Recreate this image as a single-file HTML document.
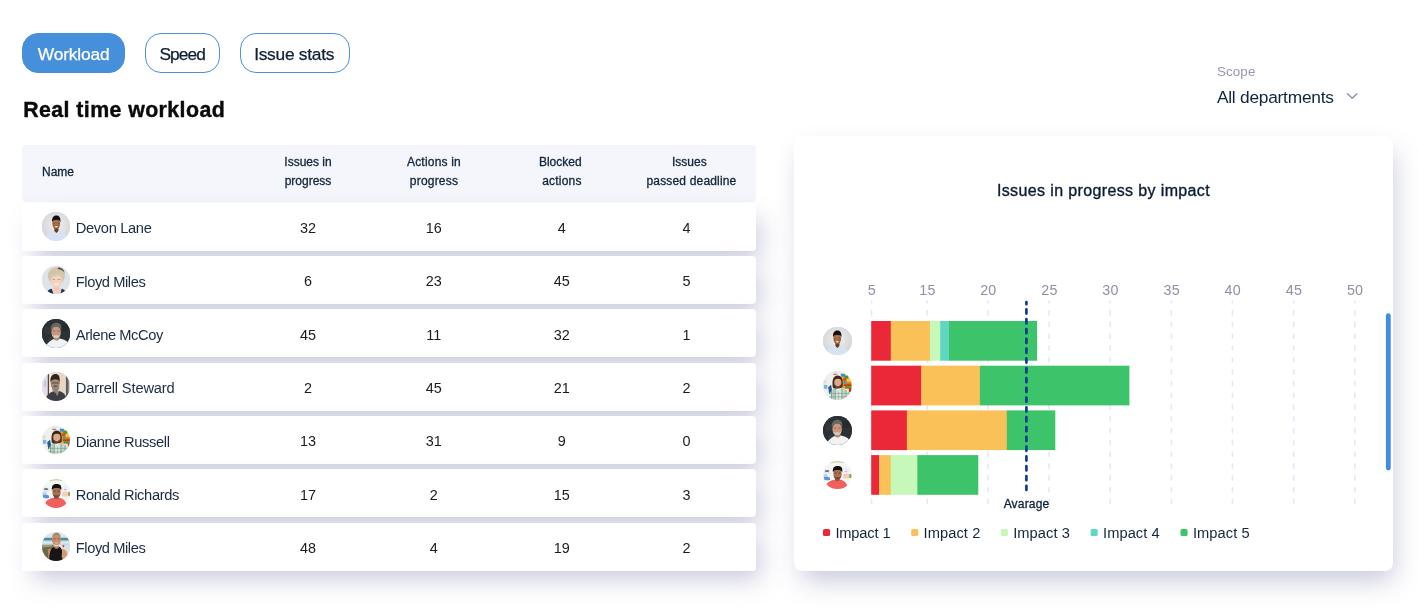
<!DOCTYPE html>
<html lang="en">
<head>
<meta charset="utf-8">
<title>Real time workload</title>
<style>
*{box-sizing:border-box;margin:0;padding:0}
html,body{width:1418px;height:611px;overflow:hidden;background:#fff}
body{font-family:"Liberation Sans",sans-serif;color:#14263d;position:relative}
.abs{position:absolute}
.tab{position:absolute;top:33px;height:39.7px;border-radius:16px;border:1.3px solid #4a90de;background:#fff;color:#0d1f36;font-size:17.33px;line-height:37.1px;padding-top:1.7px;text-align:center;white-space:nowrap;-webkit-text-stroke:.25px currentColor}
.tab.on{background:#458fdb;border-color:#458fdb;color:#fff}
h1{position:absolute;left:23.2px;top:96.9px;-webkit-text-stroke:.4px #0a0a0c;font-size:21.33px;line-height:26px;font-weight:700;color:#0a0a0c;letter-spacing:.42px;white-space:nowrap}
.thead{position:absolute;left:22.3px;top:144.5px;width:733.6px;height:57.3px;background:#f5f6fb;border-radius:4px}
.th{position:absolute;top:8.5px;width:140px;margin-left:-70px;text-align:center;font-size:12px;line-height:19.2px;color:#10243c;white-space:nowrap;-webkit-text-stroke:.3px #10243c}
.row{position:absolute;left:22.3px;width:733.6px;height:48px;background:#fff;border-radius:4px;box-shadow:8px 12px 24px -4px rgba(106,109,161,.37)}
.row .nm{position:absolute;left:53.5px;top:2.8px;line-height:47.7px;font-size:14.67px;color:#1a2b42;letter-spacing:-.34px;white-space:nowrap}
.row .v{position:absolute;top:2.3px;width:60px;margin-left:-30px;text-align:center;line-height:47.7px;font-size:14.4px;color:#1b1b1f;letter-spacing:0;white-space:nowrap}
.av{position:absolute;width:28.8px;height:28.8px;border-radius:50%;overflow:hidden;display:block}
.row .av{left:19.4px;top:9.7px}
.card{position:absolute;left:794px;top:136px;width:599px;height:434.5px;background:#fff;border-radius:8px;box-shadow:4px 13px 26px -4px rgba(98,101,156,.36)}
</style>
</head>
<body>
<svg width="0" height="0" style="position:absolute"><defs><filter id="avb" x="-10%" y="-10%" width="120%" height="120%"><feGaussianBlur stdDeviation="1.3"/></filter></defs></svg>

<div class="tab on" style="left:22px;width:103.2px;letter-spacing:-.17px">Workload</div>
<div class="tab" style="left:144.8px;width:75.6px;letter-spacing:-.9px;padding-right:.8px">Speed</div>
<div class="tab" style="left:240.2px;width:110px;letter-spacing:-.25px;padding-right:2px">Issue stats</div>

<h1>Real time workload</h1>

<div class="abs" style="left:1216.9px;top:63.5px;font-size:13.33px;line-height:16px;color:#9697ad;letter-spacing:.16px">Scope</div>
<div class="abs" style="left:1216.9px;top:86.5px;font-size:17.33px;line-height:21px;color:#10243c;letter-spacing:-.24px;white-space:nowrap">All departments</div>
<svg class="abs" style="left:1345px;top:91px" width="14" height="10" viewBox="0 0 14 10"><path d="M2.5 2.8 L7.2 7.2 L11.9 2.8" fill="none" stroke="#8889a6" stroke-width="1.25" stroke-linecap="round" stroke-linejoin="round"/></svg>

<div class="thead">
  <div class="th" style="left:36.2px;width:auto;margin-left:-16.5px;top:18px;text-align:left">Name</div>
  <div class="th" style="left:285.7px">Issues in<br>progress</div>
  <div class="th" style="left:411.7px;letter-spacing:.2px">Actions in<br>progress</div>
  <div class="th" style="left:538px">Blocked<br><span style="position:relative;left:1.6px;letter-spacing:.2px">actions</span></div>
  <div class="th" style="left:667px">Issues<br><span style="position:relative;left:2.2px;letter-spacing:.17px">passed deadline</span></div>
</div>

<div class="row" style="top:202.7px"><svg class="av" style="background:#dcdde0;" viewBox="0 0 100 100"><g filter="url(#avb)"><defs><radialGradient id="gDr0" cx=".5" cy=".45" r=".6"><stop offset="0" stop-color="#f1f1f2"/><stop offset="1" stop-color="#cbccd0"/></radialGradient></defs>
<rect x="-10" y="-10" width="120" height="120" fill="url(#gDr0)"/>
<path d="M5 104C8 82 22 74 38 66L50 73L62 66C78 74 92 82 95 104Z" fill="#d5e3f4"/>
<path d="M43 54h14v12l-7 7l-7-7z" fill="#6b3a20"/>
<ellipse cx="49.500" cy="41" rx="13.500" ry="18" fill="#a2663f"/>
<ellipse cx="49.500" cy="37" rx="8" ry="7" fill="#bd8158" opacity=".7"/>
<path d="M35 36C33 17 42 12 50 12C58 12 66 17 64 36C62 29 58 26.500 50 26.500C42 26.500 37 29 35 36Z" fill="#17110f"/>
<path d="M37 38.500h25" stroke="#34304a" stroke-width="1.600" opacity=".75"/>
<path d="M38.500 48c3 11 19 11 22 0c-2 5-5 6.500-11 6.500s-9-1.500-11-6.500z" fill="#5a321c" opacity=".6"/>
<ellipse cx="49.500" cy="51" rx="5.200" ry="2.500" fill="#f6efea"/></g></svg><span class="nm">Devon Lane</span><span class="v" style="left:285.7px">32</span><span class="v" style="left:411.5px">16</span><span class="v" style="left:539.5px">4</span><span class="v" style="left:664.2px">4</span></div>
<div class="row" style="top:256.0px"><svg class="av" style="background:#dce4e9;" viewBox="0 0 100 100"><g filter="url(#avb)"><rect width="100" height="100" fill="#dce4e9"/>
<path d="M18 112C20 84 30 80 42 78L58 78C70 80 80 84 84 112Z" fill="#f1d2bf"/>
<path d="M15 112C16 86 24 80 34 79C36 88 40 95 44 112Z" fill="#1d3263"/>
<path d="M86 112C84 88 80 81 68 79C67 88 64 95 60 112Z" fill="#1d3263"/>
<rect x="41" y="66" width="19" height="16" fill="#ecc5b0"/>
<ellipse cx="50" cy="34" rx="29.500" ry="30" fill="#d2c4ab"/>
<path d="M55 5C66 4 76 10 79 24C74 16 66 11 55 10Z" fill="#5b4a3c"/>
<ellipse cx="50" cy="52" rx="20" ry="24" fill="#f3d3c0"/>
<path d="M28 46C30 26 48 20 66 24C74 28 76 40 73 50C70 38 62 32 52 33C42 34 34 38 28 46Z" fill="#d6c8af"/>
<path d="M40 60c5 8 15 8 20 0c-4 3-16 3-20 0z" fill="#fff"/>
<path d="M37 47h8M55 47h8" stroke="#6a5448" stroke-width="1.600"/></g></svg><span class="nm" style="letter-spacing:-0.42px">Floyd Miles</span><span class="v" style="left:285.7px">6</span><span class="v" style="left:411.5px">23</span><span class="v" style="left:539.5px">45</span><span class="v" style="left:664.2px">5</span></div>
<div class="row" style="top:309.4px"><svg class="av" style="background:#2c3034;" viewBox="0 0 100 100"><g filter="url(#avb)"><rect width="100" height="100" fill="#2c3034"/>
<circle cx="22" cy="40" r="14" fill="#383d42" opacity=".6"/><circle cx="80" cy="30" r="12" fill="#23272a" opacity=".7"/><circle cx="30" cy="72" r="10" fill="#3a3f44" opacity=".5"/>
<path d="M6 112C14 84 30 74 44 68L62 68C80 72 97 77 106 112Z" fill="#f1f2f3"/>
<path d="M41 58h19v12c-4 6-14 6-19 0z" fill="#b98868"/>
<ellipse cx="49" cy="45" rx="16.500" ry="21" fill="#c8997c"/>
<path d="M31 40C28 22 38 13 50 13C62 13 70 22 66.500 40C64 30 60 27 50 27C40 27 34 30 31 40Z" fill="#6b6764"/>
<path d="M33.500 50C35 62 41 67 49 67C57 67 63 62 65 50C62 56 58 58 49 58C40 58 36 56 33.500 50Z" fill="#cbc7c3"/>
<path d="M43 58c3 3 9 3 12 0z" fill="#fff"/>
<path d="M38 42h8M53 42h8" stroke="#4a3a30" stroke-width="1.600"/></g></svg><span class="nm" style="letter-spacing:-0.42px">Arlene McCoy</span><span class="v" style="left:285.7px">45</span><span class="v" style="left:411.5px">11</span><span class="v" style="left:539.5px">32</span><span class="v" style="left:664.2px">1</span></div>
<div class="row" style="top:362.7px"><svg class="av" style="background:#e4dad2;" viewBox="0 0 100 100"><g filter="url(#avb)"><rect width="100" height="100" fill="#e9dcd0"/>
<rect width="21" height="100" fill="#e6dde8"/><rect x="8" y="30" width="6" height="22" fill="#b9c6e8"/>
<rect x="20" width="5.500" height="100" fill="#5d4436"/>
<rect x="25" width="8" height="100" fill="#f1ece8"/>
<rect x="58" width="24" height="100" fill="#e7d6c4"/>
<rect x="83" width="10" height="100" fill="#5e5e63"/>
<rect x="93" width="7" height="100" fill="#cfd2d8"/>
<path d="M9 112C11 80 26 72 40 67L62 67C76 71 86 80 88 112Z" fill="#3c3e45"/>
<path d="M44 66L60 66L53 84Z" fill="#a88068"/>
<ellipse cx="45.500" cy="40" rx="15.500" ry="21" fill="#ad8770"/>
<path d="M29.500 36C27 14 38 7 47 7C57 7 64 15 61 36C58 27 54 25 46 25C38 25 32 28 29.500 36Z" fill="#292524"/>
<path d="M33 38h28" stroke="#2b2628" stroke-width="2.200"/>
<path d="M34 47C35 60 38 72 47 72C57 72 59 60 60.500 47C57 52 53 53 47 53C41 53 37 52 34 47Z" fill="#8b8783"/>
<path d="M38 49c4-3 14-3 18 0c-4 3-14 3-18 0z" fill="#4a4440"/></g></svg><span class="nm" style="letter-spacing:-0.15px">Darrell Steward</span><span class="v" style="left:285.7px">2</span><span class="v" style="left:411.5px">45</span><span class="v" style="left:539.5px">21</span><span class="v" style="left:664.2px">2</span></div>
<div class="row" style="top:416.0px"><svg class="av" style="background:#edf0ee;" viewBox="0 0 100 100"><g filter="url(#avb)"><rect width="100" height="100" fill="#edf0ee"/>
<rect x="36" y="2" width="14" height="12" fill="#d8e6ec"/><rect x="36" y="10" width="12" height="4" fill="#e05a50"/>
<rect x="2" y="34" width="10" height="8" fill="#cfe0c8"/><rect x="3" y="48" width="12" height="14" fill="#7fb4d8"/>
<path d="M18 56l10-8l4 20l-10 14z" fill="#285a8c"/>
<path d="M62 8C78 10 94 24 99 44L100 66L66 60Z" fill="#e9a128"/>
<rect x="62" y="10" width="14" height="9" fill="#2f8fe0"/><rect x="74" y="16" width="14" height="10" fill="#3c9a42"/>
<rect x="70" y="26" width="12" height="8" fill="#d8401f"/><rect x="82" y="28" width="14" height="9" fill="#f1d42a"/>
<rect x="72" y="36" width="10" height="8" fill="#2f8fe0"/><rect x="84" y="39" width="14" height="8" fill="#e07a1e"/>
<rect x="72" y="46" width="26" height="6" fill="#c9361c"/><rect x="76" y="53" width="22" height="7" fill="#3c9a42"/>
<rect x="90" y="60" width="9" height="14" fill="#c8301e"/>
<path d="M19 112C20 76 30 64 44 58L64 58C80 62 94 74 97 112Z" fill="#d6e6dd"/>
<path d="M30 66v46M42 60v52M66 60v52M80 66v46" stroke="#5b9a82" stroke-width="4" opacity=".8"/>
<path d="M36 62v50M54 70v42M73 62v50M88 72v40" stroke="#d47868" stroke-width="2" opacity=".8"/>
<path d="M22 78h74M20 90h78" stroke="#5b9a82" stroke-width="3" opacity=".6"/>
<path d="M48 58l6 12l6-12z" fill="#f3f3f0"/>
<path d="M34 57C30 30 37 16 51 16C65 16 71 30 68 55C65 59 60 61 51 61C42 61 37 60 34 57Z" fill="#432a1a"/>
<ellipse cx="51.500" cy="40" rx="12.500" ry="17" fill="#dcaa88"/>
<path d="M40 44C41 56 45 60 51.500 60C58 60 62 56 63.500 44C61 49 57 50 51.500 50C46 50 42 49 40 44Z" fill="#6a4028" opacity=".85"/>
<path d="M46 50c3 3 8 3 11 0z" fill="#fff"/>
<path d="M40 30C42 22 48 19 52 19C58 19 62 23 63.500 31C58 26 46 26 40 30Z" fill="#3b2517"/></g></svg><span class="nm">Dianne Russell</span><span class="v" style="left:285.7px">13</span><span class="v" style="left:411.5px">31</span><span class="v" style="left:539.5px">9</span><span class="v" style="left:664.2px">0</span></div>
<div class="row" style="top:469.4px"><svg class="av" style="background:#f4f5f5;" viewBox="0 0 100 100"><g filter="url(#avb)"><rect width="100" height="100" fill="#f4f5f5"/>
<path d="M26 5C38 0 60 0 72 4L69 7C58 3 40 3 29 8Z" fill="#aac472" opacity=".8"/>
<rect x="4" y="30" width="22" height="14" fill="#dfe6ea"/><rect x="8" y="32" width="12" height="6" fill="#5a6a78"/>
<path d="M3 55C8 53 18 54 24 58L25 65C18 68 8 67 4 64Z" fill="#5f8fde"/><rect x="2" y="46" width="14" height="7" fill="#b9d0ee"/>
<rect x="70" y="44" width="20" height="17" fill="#f4cdb2"/><rect x="72" y="24" width="18" height="14" fill="#eceef6"/><rect x="76" y="34" width="8" height="5" fill="#c9b6ea"/>
<path d="M91 46c5-2 8 2 8 6l-2 8l-6-2z" fill="#7aa544"/>
<path d="M10 88C12 74 26 68 40 65L60 65C72 68 82 74 84 88C76 100 62 108 48 108C32 108 16 100 10 88Z" fill="#f0615b"/>
<path d="M42 58h16v9c-4 5-12 5-16 0z" fill="#935c3c"/>
<ellipse cx="50.500" cy="45" rx="14.500" ry="19" fill="#a87150"/>
<path d="M34.500 40C32 22 40 17 51 17C62 17 70 22 66.500 40C64 33 60 31 51 31C42 31 37 33 34.500 40Z" fill="#15110f"/>
<path d="M36.500 50C38 60 43 64.500 50.500 64.500C58 64.500 63 60 64.500 50C62 55 57 56 50.500 56C44 56 39 55 36.500 50Z" fill="#4a2c1c" opacity=".55"/>
<path d="M40 42h7M54 42h7" stroke="#1d1410" stroke-width="1.800"/></g></svg><span class="nm">Ronald Richards</span><span class="v" style="left:285.7px">17</span><span class="v" style="left:411.5px">2</span><span class="v" style="left:539.5px">15</span><span class="v" style="left:664.2px">3</span></div>
<div class="row" style="top:522.7px"><svg class="av" style="background:#d4e2e6;" viewBox="0 0 100 100"><g filter="url(#avb)"><rect width="100" height="100" fill="#dbe7ea"/>
<rect y="20" width="100" height="10" fill="#4f8d9c"/>
<rect y="30" width="100" height="16" fill="#c3dbe6"/><rect y="36" width="100" height="3" fill="#eef4f6"/>
<rect x="50" y="46" width="50" height="54" fill="#d4e2e6"/>
<path d="M0 46L40 44L46 112L0 112Z" fill="#6b6a48"/>
<path d="M0 44L36 44L36 50L0 54Z" fill="#a09a78"/>
<path d="M70 47l8-2l-3 10z" fill="#de2222"/>
<path d="M64 60C78 56 90 66 88 84L82 94L64 96Z" fill="#d49a72"/>
<path d="M20 60L30 56L30 96L22 94Z" fill="#c58a62"/>
<path d="M25 112C24 72 30 56 42 52L62 52C72 58 70 74 68 84C70 92 74 97 78 112Z" fill="#141414"/>
<path d="M42 46h17v8c-4 6-13 6-17 0z" fill="#c08058"/>
<ellipse cx="50" cy="27" rx="15.500" ry="22" fill="#ca8d6a"/>
<path d="M35 20C36 8 44 3 51 3C58 3 64 8 65.500 20C62 12 58 9 51 9C44 9 38 12 35 20Z" fill="#8b8078"/>
<path d="M40 40C42 48 46 50 50.500 50C55 50 59 48 61 40C58 44 54 45 50.500 45C47 45 43 44 40 40Z" fill="#e4dfda"/>
<path d="M44 37c3 3 10 3 13 0z" fill="#fff"/>
<path d="M39 24h8M54 24h8" stroke="#4a3024" stroke-width="1.800"/></g></svg><span class="nm" style="letter-spacing:-0.42px">Floyd Miles</span><span class="v" style="left:285.7px">48</span><span class="v" style="left:411.5px">4</span><span class="v" style="left:539.5px">19</span><span class="v" style="left:664.2px">2</span></div>

<div class="card" id="card">
<svg class="abs" style="left:0;top:0" width="599.5" height="434.5" viewBox="0 0 599.5 434.5" font-family="Liberation Sans, sans-serif">
<text x="309.5" y="60.3" text-anchor="middle" font-size="16" fill="#0a1c33" stroke="#0a1c33" stroke-width=".35" letter-spacing=".37">Issues in progress by impact</text>
<text x="77.9" y="158.7" text-anchor="middle" font-size="14.3" fill="#8e90a5" letter-spacing=".2">5</text>
<text x="133.5" y="158.7" text-anchor="middle" font-size="14.3" fill="#8e90a5" letter-spacing=".2">15</text>
<text x="194.3" y="158.7" text-anchor="middle" font-size="14.3" fill="#8e90a5" letter-spacing=".2">20</text>
<text x="255.4" y="158.7" text-anchor="middle" font-size="14.3" fill="#8e90a5" letter-spacing=".2">25</text>
<text x="316.5" y="158.7" text-anchor="middle" font-size="14.3" fill="#8e90a5" letter-spacing=".2">30</text>
<text x="377.7" y="158.7" text-anchor="middle" font-size="14.3" fill="#8e90a5" letter-spacing=".2">35</text>
<text x="438.7" y="158.7" text-anchor="middle" font-size="14.3" fill="#8e90a5" letter-spacing=".2">40</text>
<text x="500.0" y="158.7" text-anchor="middle" font-size="14.3" fill="#8e90a5" letter-spacing=".2">45</text>
<text x="561.1" y="158.7" text-anchor="middle" font-size="14.3" fill="#8e90a5" letter-spacing=".2">50</text>
<path d="M77.6 164.6V369.2" stroke="#e2e7f8" stroke-width="1.5" stroke-dasharray="5.4 6.4" stroke-dashoffset="2.4"/>
<path d="M133.2 164.6V369.2" stroke="#e2e7f8" stroke-width="1.5" stroke-dasharray="5.4 6.4" stroke-dashoffset="2.4"/>
<path d="M194 164.6V369.2" stroke="#e2e7f8" stroke-width="1.5" stroke-dasharray="5.4 6.4" stroke-dashoffset="2.4"/>
<path d="M255.1 164.6V369.2" stroke="#e2e7f8" stroke-width="1.5" stroke-dasharray="5.4 6.4" stroke-dashoffset="2.4"/>
<path d="M316.2 164.6V369.2" stroke="#e2e7f8" stroke-width="1.5" stroke-dasharray="5.4 6.4" stroke-dashoffset="2.4"/>
<path d="M377.4 164.6V369.2" stroke="#e2e7f8" stroke-width="1.5" stroke-dasharray="5.4 6.4" stroke-dashoffset="2.4"/>
<path d="M438.4 164.6V369.2" stroke="#e2e7f8" stroke-width="1.5" stroke-dasharray="5.4 6.4" stroke-dashoffset="2.4"/>
<path d="M499.7 164.6V369.2" stroke="#e2e7f8" stroke-width="1.5" stroke-dasharray="5.4 6.4" stroke-dashoffset="2.4"/>
<path d="M560.8 164.6V369.2" stroke="#e2e7f8" stroke-width="1.5" stroke-dasharray="5.4 6.4" stroke-dashoffset="2.4"/>
<rect x="77.2" y="185.0" width="19.9" height="39.7" fill="#eb2838"/>
<rect x="96.8" y="185.0" width="39.6" height="39.7" fill="#f9c158"/>
<rect x="136.1" y="185.0" width="10.4" height="39.7" fill="#c6f8ba"/>
<rect x="146.2" y="185.0" width="9.1" height="39.7" fill="#5fd6c0"/>
<rect x="155.0" y="185.0" width="88.1" height="39.7" fill="#3dc46b"/>
<rect x="77.2" y="229.7" width="50.4" height="39.7" fill="#eb2838"/>
<rect x="127.3" y="229.7" width="58.9" height="39.7" fill="#f9c158"/>
<rect x="185.9" y="229.7" width="149.5" height="39.7" fill="#3dc46b"/>
<rect x="77.2" y="274.4" width="36.0" height="39.7" fill="#eb2838"/>
<rect x="112.9" y="274.4" width="100.2" height="39.7" fill="#f9c158"/>
<rect x="212.8" y="274.4" width="48.5" height="39.7" fill="#3dc46b"/>
<rect x="77.2" y="319.1" width="8.3" height="39.7" fill="#eb2838"/>
<rect x="85.2" y="319.1" width="11.9" height="39.7" fill="#f9c158"/>
<rect x="96.8" y="319.1" width="26.8" height="39.7" fill="#c6f8ba"/>
<rect x="123.3" y="319.1" width="61.0" height="39.7" fill="#3dc46b"/>
<path d="M232.4 166.0V168.2M232.4 173.4V358" stroke="#0c3c92" stroke-width="2.7" stroke-linecap="round" stroke-dasharray="4.2 5.6"/>
<text x="232.5" y="371.9" text-anchor="middle" font-size="12" fill="#0c1f38" stroke="#0c1f38" stroke-width=".3" letter-spacing=".17">Avarage</text>
<rect x="29" y="393" width="7.1" height="7.1" rx="1.6" fill="#eb2838"/>
<text x="41.4" y="402" font-size="14.67" fill="#14263d" letter-spacing="-0.15">Impact 1</text>
<rect x="117.2" y="393" width="7.1" height="7.1" rx="1.6" fill="#f9c158"/>
<text x="129.6" y="402" font-size="14.67" fill="#14263d" letter-spacing="0.07">Impact 2</text>
<rect x="206.8" y="393" width="7.1" height="7.1" rx="1.6" fill="#c6f8ba"/>
<text x="219.2" y="402" font-size="14.67" fill="#14263d" letter-spacing="0.07">Impact 3</text>
<rect x="296.6" y="393" width="7.1" height="7.1" rx="1.6" fill="#5fd6c0"/>
<text x="309.0" y="402" font-size="14.67" fill="#14263d" letter-spacing="0.07">Impact 4</text>
<rect x="386.5" y="393" width="7.1" height="7.1" rx="1.6" fill="#3dc46b"/>
<text x="398.9" y="402" font-size="14.67" fill="#14263d" letter-spacing="0.07">Impact 5</text>
<rect x="591.9" y="177.2" width="4.8" height="157.2" rx="2.4" fill="#3f8ddb"/>
</svg>
<svg class="av" style="background:#dcdde0;left:28.9px;top:190.5px" viewBox="0 0 100 100"><g filter="url(#avb)"><defs><radialGradient id="gDc0" cx=".5" cy=".45" r=".6"><stop offset="0" stop-color="#f1f1f2"/><stop offset="1" stop-color="#cbccd0"/></radialGradient></defs>
<rect x="-10" y="-10" width="120" height="120" fill="url(#gDc0)"/>
<path d="M5 104C8 82 22 74 38 66L50 73L62 66C78 74 92 82 95 104Z" fill="#d5e3f4"/>
<path d="M43 54h14v12l-7 7l-7-7z" fill="#6b3a20"/>
<ellipse cx="49.500" cy="41" rx="13.500" ry="18" fill="#a2663f"/>
<ellipse cx="49.500" cy="37" rx="8" ry="7" fill="#bd8158" opacity=".7"/>
<path d="M35 36C33 17 42 12 50 12C58 12 66 17 64 36C62 29 58 26.500 50 26.500C42 26.500 37 29 35 36Z" fill="#17110f"/>
<path d="M37 38.500h25" stroke="#34304a" stroke-width="1.600" opacity=".75"/>
<path d="M38.500 48c3 11 19 11 22 0c-2 5-5 6.500-11 6.500s-9-1.500-11-6.500z" fill="#5a321c" opacity=".6"/>
<ellipse cx="49.500" cy="51" rx="5.200" ry="2.500" fill="#f6efea"/></g></svg>
<svg class="av" style="background:#edf0ee;left:28.9px;top:235.2px" viewBox="0 0 100 100"><g filter="url(#avb)"><rect width="100" height="100" fill="#edf0ee"/>
<rect x="36" y="2" width="14" height="12" fill="#d8e6ec"/><rect x="36" y="10" width="12" height="4" fill="#e05a50"/>
<rect x="2" y="34" width="10" height="8" fill="#cfe0c8"/><rect x="3" y="48" width="12" height="14" fill="#7fb4d8"/>
<path d="M18 56l10-8l4 20l-10 14z" fill="#285a8c"/>
<path d="M62 8C78 10 94 24 99 44L100 66L66 60Z" fill="#e9a128"/>
<rect x="62" y="10" width="14" height="9" fill="#2f8fe0"/><rect x="74" y="16" width="14" height="10" fill="#3c9a42"/>
<rect x="70" y="26" width="12" height="8" fill="#d8401f"/><rect x="82" y="28" width="14" height="9" fill="#f1d42a"/>
<rect x="72" y="36" width="10" height="8" fill="#2f8fe0"/><rect x="84" y="39" width="14" height="8" fill="#e07a1e"/>
<rect x="72" y="46" width="26" height="6" fill="#c9361c"/><rect x="76" y="53" width="22" height="7" fill="#3c9a42"/>
<rect x="90" y="60" width="9" height="14" fill="#c8301e"/>
<path d="M19 112C20 76 30 64 44 58L64 58C80 62 94 74 97 112Z" fill="#d6e6dd"/>
<path d="M30 66v46M42 60v52M66 60v52M80 66v46" stroke="#5b9a82" stroke-width="4" opacity=".8"/>
<path d="M36 62v50M54 70v42M73 62v50M88 72v40" stroke="#d47868" stroke-width="2" opacity=".8"/>
<path d="M22 78h74M20 90h78" stroke="#5b9a82" stroke-width="3" opacity=".6"/>
<path d="M48 58l6 12l6-12z" fill="#f3f3f0"/>
<path d="M34 57C30 30 37 16 51 16C65 16 71 30 68 55C65 59 60 61 51 61C42 61 37 60 34 57Z" fill="#432a1a"/>
<ellipse cx="51.500" cy="40" rx="12.500" ry="17" fill="#dcaa88"/>
<path d="M40 44C41 56 45 60 51.500 60C58 60 62 56 63.500 44C61 49 57 50 51.500 50C46 50 42 49 40 44Z" fill="#6a4028" opacity=".85"/>
<path d="M46 50c3 3 8 3 11 0z" fill="#fff"/>
<path d="M40 30C42 22 48 19 52 19C58 19 62 23 63.500 31C58 26 46 26 40 30Z" fill="#3b2517"/></g></svg>
<svg class="av" style="background:#2c3034;left:28.9px;top:279.9px" viewBox="0 0 100 100"><g filter="url(#avb)"><rect width="100" height="100" fill="#2c3034"/>
<circle cx="22" cy="40" r="14" fill="#383d42" opacity=".6"/><circle cx="80" cy="30" r="12" fill="#23272a" opacity=".7"/><circle cx="30" cy="72" r="10" fill="#3a3f44" opacity=".5"/>
<path d="M6 112C14 84 30 74 44 68L62 68C80 72 97 77 106 112Z" fill="#f1f2f3"/>
<path d="M41 58h19v12c-4 6-14 6-19 0z" fill="#b98868"/>
<ellipse cx="49" cy="45" rx="16.500" ry="21" fill="#c8997c"/>
<path d="M31 40C28 22 38 13 50 13C62 13 70 22 66.500 40C64 30 60 27 50 27C40 27 34 30 31 40Z" fill="#6b6764"/>
<path d="M33.500 50C35 62 41 67 49 67C57 67 63 62 65 50C62 56 58 58 49 58C40 58 36 56 33.500 50Z" fill="#cbc7c3"/>
<path d="M43 58c3 3 9 3 12 0z" fill="#fff"/>
<path d="M38 42h8M53 42h8" stroke="#4a3a30" stroke-width="1.600"/></g></svg>
<svg class="av" style="background:#f4f5f5;left:28.9px;top:324.6px" viewBox="0 0 100 100"><g filter="url(#avb)"><rect width="100" height="100" fill="#f4f5f5"/>
<path d="M26 5C38 0 60 0 72 4L69 7C58 3 40 3 29 8Z" fill="#aac472" opacity=".8"/>
<rect x="4" y="30" width="22" height="14" fill="#dfe6ea"/><rect x="8" y="32" width="12" height="6" fill="#5a6a78"/>
<path d="M3 55C8 53 18 54 24 58L25 65C18 68 8 67 4 64Z" fill="#5f8fde"/><rect x="2" y="46" width="14" height="7" fill="#b9d0ee"/>
<rect x="70" y="44" width="20" height="17" fill="#f4cdb2"/><rect x="72" y="24" width="18" height="14" fill="#eceef6"/><rect x="76" y="34" width="8" height="5" fill="#c9b6ea"/>
<path d="M91 46c5-2 8 2 8 6l-2 8l-6-2z" fill="#7aa544"/>
<path d="M10 88C12 74 26 68 40 65L60 65C72 68 82 74 84 88C76 100 62 108 48 108C32 108 16 100 10 88Z" fill="#f0615b"/>
<path d="M42 58h16v9c-4 5-12 5-16 0z" fill="#935c3c"/>
<ellipse cx="50.500" cy="45" rx="14.500" ry="19" fill="#a87150"/>
<path d="M34.500 40C32 22 40 17 51 17C62 17 70 22 66.500 40C64 33 60 31 51 31C42 31 37 33 34.500 40Z" fill="#15110f"/>
<path d="M36.500 50C38 60 43 64.500 50.500 64.500C58 64.500 63 60 64.500 50C62 55 57 56 50.500 56C44 56 39 55 36.500 50Z" fill="#4a2c1c" opacity=".55"/>
<path d="M40 42h7M54 42h7" stroke="#1d1410" stroke-width="1.800"/></g></svg>
</div>

</body>
</html>
